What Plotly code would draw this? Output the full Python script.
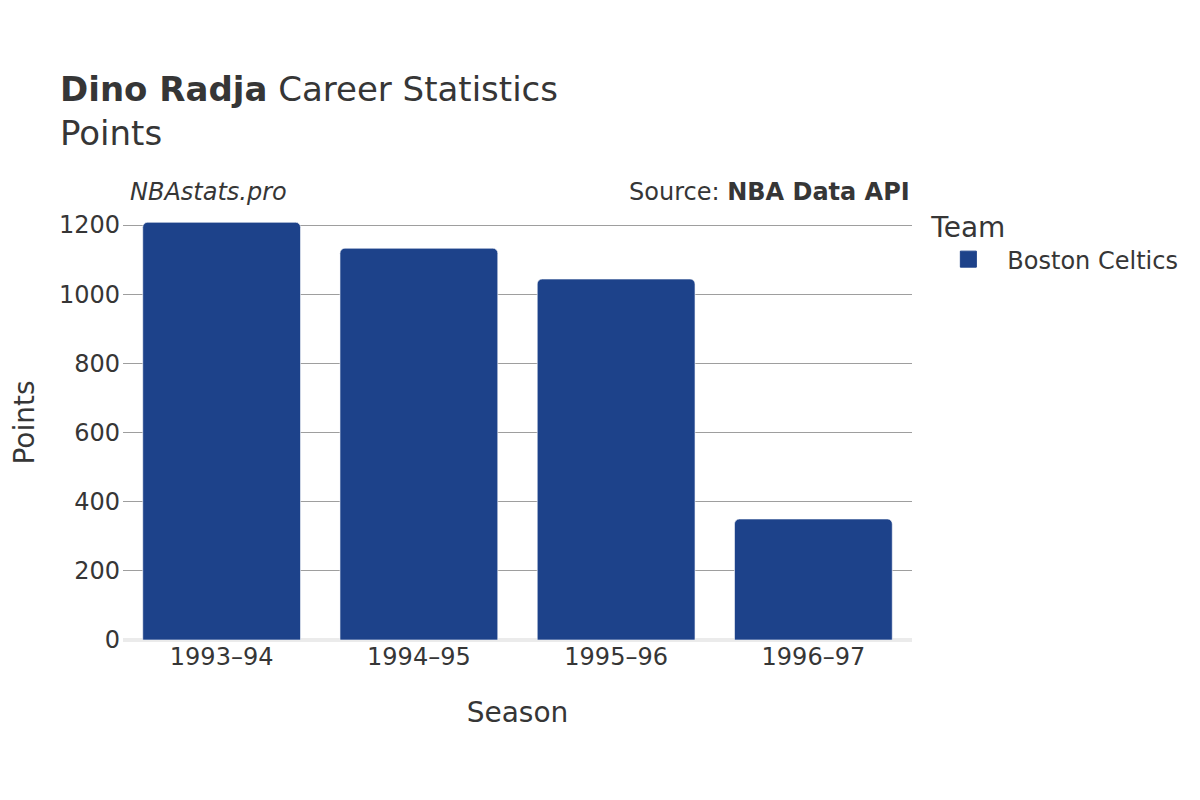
import plotly.graph_objects as go

seasons = ["1993–94", "1994–95", "1995–96", "1996–97"]
points = [1208, 1133, 1044, 350]
team = "Boston Celtics"
team_color = "#1d428a"

text_color = "#363636"
font_family = "DejaVu Sans"

fig = go.Figure()
fig.add_trace(go.Bar(x=seasons,
                     y=points,
                     name=team,
                     showlegend=False,
                     marker=dict(color=team_color,
                                 cornerradius=5,
                                 line=dict(color="rgba(255,255,255,0.6)", width=1))
                     ))
# bigger legend swatch than the bar legend gives
fig.add_trace(go.Scatter(x=[None], y=[None],
                         mode="markers",
                         name=team,
                         marker=dict(symbol="square", size=20, color=team_color,
                                     line=dict(color=team_color, width=1))
                         ))

fig.add_annotation(text="<i>NBAstats.pro</i>", xref="paper", yref="paper",
                   x=0.006, y=1.0, xanchor="left", yanchor="bottom", yshift=-3,
                   showarrow=False, font=dict(size=24, color=text_color))
fig.add_annotation(text="Source: <b>NBA Data API</b>", xref="paper", yref="paper",
                   x=1.0, y=1.0, xanchor="right", yanchor="bottom", yshift=-3,
                   showarrow=False, font=dict(size=24, color=text_color))

fig.update_layout(
    width=1200, height=800,
    font=dict(family=font_family, color=text_color, size=24),
    title=dict(text="<b>Dino Radja</b> Career Statistics<br>Points",
               x=52 / 1200, xanchor="left", y=0.884, yanchor="top",
               font=dict(size=34)),
    plot_bgcolor="white", paper_bgcolor="white",
    margin=dict(l=115, r=296, t=197, b=168),
    bargap=0.2,
    showlegend=True,
    legend=dict(title=dict(text="Team", font=dict(size=28)),
                x=1.022, y=1.01, xanchor="left", yanchor="top",
                itemwidth=68,
                font=dict(size=24)),
)
fig.update_xaxes(title_text="Season", title_font=dict(size=28), tickfont=dict(size=24),
                 title_standoff=32, showgrid=False, automargin=False)
fig.update_yaxes(title_text="Points", title_font=dict(size=28), tickfont=dict(size=24),
                 title_standoff=18, automargin=False, ticks="", ticklabelstandoff=2,
                 range=[0, 1258], dtick=200, showgrid=True, gridcolor="#9e9e9e", gridwidth=1,
                 zeroline=True, zerolinecolor="#ebebeb", zerolinewidth=4)

fig.write_html("out.html")
